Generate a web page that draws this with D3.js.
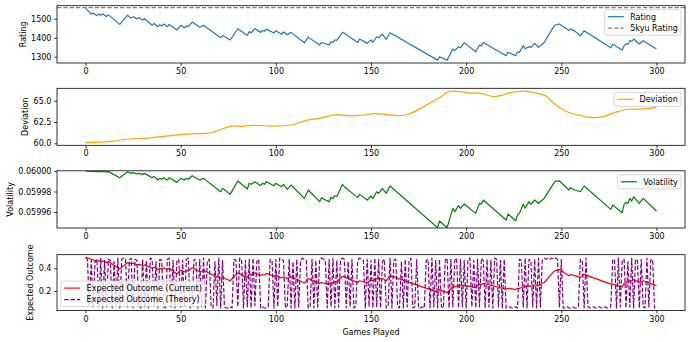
<!DOCTYPE html>
<html><head><meta charset="utf-8">
<script src="https://cdn.jsdelivr.net/npm/d3@7"></script>
<style>body{margin:0;background:#fff}svg{display:block;font-family:"DejaVu Sans",sans-serif}</style>
</head><body>
<svg id="c" width="690" height="342"></svg>
<script>
// ---------------- data ----------------
const xTicks = [0, 50, 100, 150, 200, 250, 300];
const ratingTicks = [1300, 1400, 1500];
const deviationTicks = [60.0, 62.5, 65.0];
const volatilityTicks = [0.05996, 0.05998, 0.06000];
const outcomeTicks = [0.2, 0.4];

const kyu5Rating = 1558;

// vertices of the rating / volatility / current expected outcome lines (game index)
const vertexGames = [0,3,4,6,7,8,9,11,12,18,22,24,25,27,28,30,31,35,36,38,39,40,41,43,44,48,50,52,53,54,56,60,62,71,72,76,80,85,86,87,89,92,93,94,95,99,100,103,104,106,108,115,117,123,124,126,128,129,130,131,132,135,136,143,144,148,150,151,153,154,156,158,160,185,186,190,193,194,196,197,199,205,207,208,209,221,222,226,227,228,230,231,233,234,236,238,240,241,246,247,249,254,255,257,260,262,276,277,282,283,284,285,286,287,288,291,293,300];

const ratingValues = [1556,1524,1530,1516,1524,1518,1525,1512,1520,1470,1518,1503,1510,1499,1506,1493,1500,1465,1475,1458,1468,1462,1472,1458,1470,1440,1465,1452,1462,1458,1482,1455,1465,1400,1412,1388,1447,1412,1432,1426,1447,1428,1438,1434,1445,1425,1437,1418,1430,1415,1428,1373,1403,1362,1375,1368,1362,1378,1375,1388,1386,1428,1423,1375,1393,1370,1388,1376,1404,1400,1418,1392,1426,1282,1300,1282,1340,1332,1353,1346,1374,1326,1360,1357,1375,1305,1323,1305,1326,1323,1358,1342,1353,1348,1370,1349,1367,1375,1458,1467,1472,1438,1446,1436,1410,1437,1347,1365,1335,1358,1368,1365,1385,1380,1393,1367,1384,1340];

const volatilityValues = [0.0600000,0.0599995,0.0599996,0.0599993,0.0599995,0.0599993,0.0599995,0.0599991,0.0599994,0.0599935,0.0599993,0.0599977,0.0599984,0.0599971,0.0599977,0.0599967,0.0599977,0.0599935,0.0599948,0.0599912,0.0599928,0.0599919,0.0599935,0.0599912,0.0599935,0.0599889,0.0599928,0.0599912,0.0599928,0.0599919,0.0599954,0.0599912,0.0599928,0.0599798,0.0599831,0.0599772,0.0599902,0.0599824,0.0599880,0.0599870,0.0599896,0.0599857,0.0599880,0.0599870,0.0599896,0.0599857,0.0599880,0.0599847,0.0599870,0.0599824,0.0599863,0.0599733,0.0599815,0.0599701,0.0599740,0.0599717,0.0599701,0.0599743,0.0599733,0.0599759,0.0599750,0.0599870,0.0599847,0.0599740,0.0599772,0.0599717,0.0599756,0.0599733,0.0599798,0.0599782,0.0599831,0.0599782,0.0599854,0.0599447,0.0599512,0.0599447,0.0599636,0.0599603,0.0599662,0.0599636,0.0599678,0.0599587,0.0599685,0.0599675,0.0599717,0.0599522,0.0599580,0.0599515,0.0599571,0.0599587,0.0599675,0.0599636,0.0599701,0.0599675,0.0599717,0.0599685,0.0599717,0.0599733,0.0599880,0.0599902,0.0599902,0.0599815,0.0599837,0.0599815,0.0599798,0.0599854,0.0599626,0.0599668,0.0599593,0.0599675,0.0599694,0.0599685,0.0599733,0.0599707,0.0599750,0.0599685,0.0599733,0.0599610];

const currentValues = [0.500,0.480,0.475,0.460,0.470,0.460,0.465,0.450,0.460,0.395,0.450,0.440,0.445,0.430,0.435,0.425,0.430,0.400,0.410,0.390,0.400,0.395,0.405,0.390,0.400,0.350,0.385,0.370,0.380,0.375,0.405,0.370,0.380,0.310,0.320,0.290,0.360,0.320,0.345,0.340,0.360,0.335,0.345,0.340,0.355,0.330,0.340,0.315,0.325,0.310,0.325,0.270,0.310,0.265,0.275,0.265,0.260,0.275,0.270,0.285,0.280,0.330,0.325,0.275,0.290,0.275,0.295,0.290,0.310,0.305,0.310,0.290,0.335,0.190,0.210,0.185,0.240,0.235,0.250,0.245,0.250,0.230,0.260,0.258,0.268,0.215,0.225,0.212,0.225,0.222,0.240,0.235,0.245,0.240,0.255,0.245,0.270,0.275,0.370,0.380,0.390,0.335,0.345,0.335,0.320,0.347,0.260,0.262,0.238,0.265,0.275,0.282,0.290,0.288,0.300,0.276,0.290,0.247];

const deviationGames = [0,15,20,34,50,55,64,68,78,82,88,99,108,116,123,132,137,140,145,152,159,165,170,177,186,192,198,202,207,214,218,223,230,235,242,246,252,259,267,272,278,285,291,296,300];
const deviationValues = [60.08,60.27,60.45,60.64,61.03,61.12,61.17,61.38,62.05,62.0,62.1,62.03,62.15,62.7,62.93,63.38,63.28,63.22,63.3,63.48,63.38,63.24,63.45,64.25,65.35,66.13,66.05,65.9,65.9,65.5,65.6,65.95,66.13,65.98,65.55,64.7,63.8,63.32,63.01,63.13,63.6,64.0,64.02,64.1,64.22];

// expected outcome (theory), one value per game 0..300
const theoryValues = [
0.49,0.48,0.06,0.47,0.05,0.46,0.48,0.07,0.49,0.05,
0.47,0.06,0.48,0.47,0.05,0.46,0.08,0.49,0.05,0.48,
0.49,0.48,0.06,0.47,0.49,0.05,0.48,0.47,0.06,0.05,
0.48,0.06,0.47,0.05,0.49,0.48,0.07,0.46,0.05,0.48,
0.47,0.06,0.05,0.48,0.49,0.06,0.47,0.05,0.46,0.48,
0.05,0.47,0.06,0.48,0.49,0.05,0.07,0.48,0.47,0.05,
0.48,0.06,0.49,0.05,0.47,0.48,0.06,0.05,0.46,0.07,
0.49,0.05,0.47,0.06,0.05,0.05,0.06,0.05,0.48,0.47,
0.06,0.49,0.48,0.05,0.47,0.06,0.48,0.05,0.49,0.07,
0.46,0.48,0.05,0.06,0.05,0.05,0.06,0.48,0.47,0.05,
0.48,0.06,0.49,0.48,0.47,0.05,0.07,0.48,0.05,0.46,
0.05,0.48,0.06,0.47,0.49,0.48,0.47,0.05,0.06,0.48,
0.05,0.47,0.06,0.48,0.49,0.48,0.47,0.05,0.48,0.06,
0.49,0.05,0.47,0.06,0.48,0.49,0.48,0.05,0.46,0.06,
0.48,0.05,0.07,0.47,0.49,0.48,0.47,0.05,0.48,0.06,
0.47,0.05,0.49,0.06,0.48,0.05,0.46,0.48,0.05,0.07,
0.49,0.05,0.47,0.48,0.06,0.05,0.46,0.05,0.48,0.06,
0.47,0.49,0.05,0.06,0.48,0.05,0.05,0.06,0.05,0.47,
0.48,0.05,0.49,0.06,0.47,0.05,0.48,0.06,0.05,0.47,
0.49,0.05,0.48,0.06,0.47,0.49,0.05,0.48,0.06,0.47,
0.05,0.48,0.49,0.06,0.47,0.05,0.48,0.06,0.49,0.47,
0.05,0.48,0.06,0.47,0.05,0.49,0.48,0.06,0.47,0.05,
0.48,0.05,0.05,0.06,0.05,0.05,0.06,0.05,0.48,0.47,
0.06,0.49,0.05,0.48,0.47,0.06,0.48,0.05,0.49,0.06,
0.47,0.49,0.48,0.49,0.48,0.49,0.48,0.49,0.48,0.06,
0.48,0.05,0.05,0.06,0.05,0.05,0.06,0.05,0.05,0.06,
0.48,0.47,0.05,0.49,0.06,0.05,0.05,0.06,0.05,0.05,
0.06,0.05,0.05,0.06,0.05,0.05,0.06,0.48,0.47,0.05,
0.49,0.06,0.47,0.48,0.05,0.46,0.06,0.49,0.05,0.48,
0.47,0.05,0.48,0.06,0.05,0.49,0.06,0.47,0.48,0.05,
0.06];

// ---------------- drawing ----------------
const svg = d3.select('#c');
const FS = 8, LW = 1.2, DASH = '4.4,1.9';
const x = d3.scaleLinear().domain([-15, 315]).range([57, 685]);

const panels = [
  {top: 5.7, bottom: 63, domain: [1266.8, 1568.4], ticks: ratingTicks, fmt: d3.format('d'), label: 'Rating', labelX: 23},
  {top: 88.3, bottom: 145.3, domain: [59.77, 66.46], ticks: deviationTicks, fmt: d3.format('.1f'), label: 'Deviation', labelX: 25},
  {top: 170.8, bottom: 228, domain: [0.0599444, 0.0600002], ticks: volatilityTicks, fmt: d3.format('.5f'), label: 'Volatility', labelX: 9.7},
  {top: 254.7, bottom: 310.6, domain: [0.027, 0.52], ticks: outcomeTicks, fmt: d3.format('.1f'), label: 'Expected Outcome', labelX: 30}
];

panels.forEach((p, i) => {
  p.y = d3.scaleLinear().domain(p.domain).range([p.bottom, p.top]);
  p.g = svg.append('g');
  svg.append('clipPath').attr('id', 'clip' + i).append('rect')
    .attr('x', 57).attr('y', p.top).attr('width', 628).attr('height', p.bottom - p.top);
  p.plot = p.g.append('g').attr('clip-path', `url(#clip${i})`);
});

function styleAxis(sel) {
  sel.select('.domain').remove();
  sel.selectAll('.tick line').attr('stroke', '#000').attr('stroke-width', 0.8);
  sel.selectAll('.tick text').attr('font-size', FS).attr('fill', '#000').attr('font-family', '"DejaVu Sans",sans-serif');
}

panels.forEach(p => {
  const xa = p.g.append('g').attr('transform', `translate(0,${p.bottom})`)
    .call(d3.axisBottom(x).tickValues(xTicks).tickSize(2.8).tickPadding(2.6));
  styleAxis(xa);
  const ya = p.g.append('g').attr('transform', `translate(57,0)`)
    .call(d3.axisLeft(p.y).tickValues(p.ticks).tickFormat(p.fmt).tickSize(2.8).tickPadding(2.8));
  styleAxis(ya);
  p.g.append('text').attr('transform', `translate(${p.labelX},${(p.top + p.bottom) / 2}) rotate(-90)`)
    .attr('text-anchor', 'middle').attr('dy', '0.35em').attr('font-size', FS).text(p.label);
});

function addLine(p, xs, ys, color, dash, curve) {
  const pts = xs.map((g, i) => [g, ys[i]]);
  const line = d3.line().x(d => x(d[0])).y(d => p.y(d[1])).curve(curve || d3.curveLinear);
  p.plot.append('path').datum(pts).attr('d', line).attr('fill', 'none')
    .attr('stroke', color).attr('stroke-width', LW)
    .attr('stroke-dasharray', dash || null).attr('stroke-linejoin', 'round');
}

const P1 = panels[0], P2 = panels[1], P3 = panels[2], P4 = panels[3];
addLine(P1, vertexGames, ratingValues, '#1f77b4');
P1.plot.append('line').attr('x1', 57).attr('x2', 685)
  .attr('y1', P1.y(kyu5Rating)).attr('y2', P1.y(kyu5Rating))
  .attr('stroke', 'gray').attr('stroke-width', LW).attr('stroke-dasharray', DASH);
addLine(P2, deviationGames, deviationValues, 'orange', null, d3.curveMonotoneX);
addLine(P3, vertexGames, volatilityValues, 'green');
addLine(P4, vertexGames, currentValues, 'red');
addLine(P4, d3.range(theoryValues.length), theoryValues, 'purple', DASH);

// spines
panels.forEach(p => {
  p.g.append('rect').attr('x', 57).attr('y', p.top).attr('width', 628).attr('height', p.bottom - p.top)
    .attr('fill', 'none').attr('stroke', '#000').attr('stroke-width', 0.8);
});

// x label
svg.append('text').attr('x', 371).attr('y', 331.7).attr('dy', '0.35em').attr('text-anchor', 'middle')
  .attr('font-size', FS).text('Games Played');

// legends
function legend(p, items, opts) {
  const pad = 3.2, hl = 16, htp = 6.4, pitch = 11.5, tp = 7;
  const lg = svg.append('g');
  const box = lg.append('rect');
  const texts = items.map(it => lg.append('text').attr('font-size', FS).attr('dy', '0.35em').text(it.label));
  const w = d3.max(texts, t => t.node().getComputedTextLength());
  const W = pad + hl + htp + w + pad;
  const H = tp * 2 + pitch * (items.length - 1);
  const x0 = opts.right != null ? opts.right - W : opts.left;
  const y0 = opts.top != null ? opts.top : opts.bottom - H;
  box.attr('x', x0).attr('y', y0).attr('width', W).attr('height', H).attr('rx', 2)
    .attr('fill', 'white').attr('fill-opacity', 0.8).attr('stroke', '#cccccc').attr('stroke-width', 0.8);
  items.forEach((it, i) => {
    const cy = y0 + tp + pitch * i;
    lg.append('line').attr('x1', x0 + pad).attr('x2', x0 + pad + hl).attr('y1', cy).attr('y2', cy)
      .attr('stroke', it.color).attr('stroke-width', LW).attr('stroke-dasharray', it.dash || null);
    texts[i].attr('x', x0 + pad + hl + htp).attr('y', cy).raise();
  });
}
legend(P1, [{label: 'Rating', color: '#1f77b4'}, {label: '5kyu Rating', color: 'gray', dash: DASH}], {right: 681, top: 9.7});
legend(P2, [{label: 'Deviation', color: 'orange'}], {right: 681, top: 92.3});
legend(P3, [{label: 'Volatility', color: 'green'}], {right: 681, top: 174.8});
legend(P4, [{label: 'Expected Outcome (Current)', color: 'red'}, {label: 'Expected Outcome (Theory)', color: 'purple', dash: DASH}], {left: 61, bottom: 306.6});
</script>
</body></html>
